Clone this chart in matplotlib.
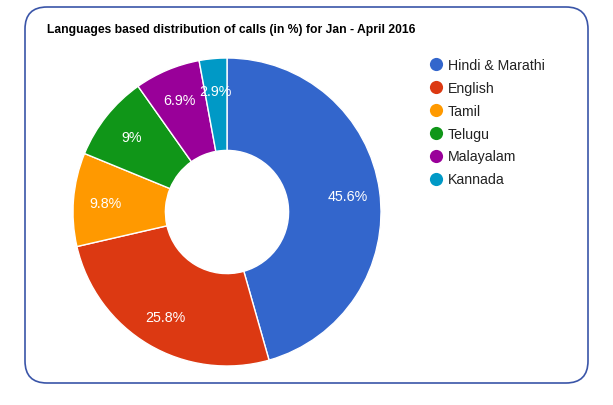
import matplotlib.pyplot as plt
from matplotlib.patches import FancyBboxPatch
import numpy as np

plt.rcParams['font.family'] = ['Liberation Sans', 'DejaVu Sans']

languages = ["Hindi & Marathi", "English", "Tamil", "Telugu", "Malayalam", "Kannada"]
shares = [45.6, 25.8, 9.8, 9, 6.9, 2.9]
share_labels = ["45.6%", "25.8%", "9.8%", "9%", "6.9%", "2.9%"]
colors = ["#3366cc", "#dc3912", "#ff9900", "#109618", "#990099", "#0099c6"]

W, H = 613, 405
fig = plt.figure(figsize=(W / 100, H / 100), dpi=100)
ax = fig.add_axes([0, 0, 1, 1])

# rounded frame
frame = FancyBboxPatch((25, H - 383), 563, 376,
                       boxstyle="round,pad=0,rounding_size=22",
                       fc="white", ec="#3a55a8", lw=1.2)
ax.add_patch(frame)

ax.text(47, H - 30, "Languages based distribution of calls (in %) for Jan - April 2016",
        fontsize=8.7, fontweight='bold', color='black', va='center', ha='left')

cx, cy, r = 227, H - 212, 154
wedges, _ = ax.pie(shares, colors=colors, startangle=90, counterclock=False,
                   center=(cx, cy), radius=r, frame=True,
                   wedgeprops=dict(width=r * 0.6, edgecolor='white', linewidth=1))
ax.set_xlim(0, W)
ax.set_ylim(0, H)
ax.set_aspect('equal')
ax.axis('off')

for w, lab in zip(wedges, share_labels):
    ang = np.deg2rad((w.theta1 + w.theta2) / 2)
    ax.text(cx + 0.79 * r * np.cos(ang), cy + 0.79 * r * np.sin(ang), lab,
            color='white', fontsize=10.3, ha='center', va='center_baseline')

# legend
for i, (name, col) in enumerate(zip(languages, colors)):
    y = H - (64 + 23 * i)
    ax.scatter([436], [y], s=90, color=col, zorder=5, linewidths=0)
    ax.text(448, y, name, fontsize=10.2, color='#222222', va='center_baseline', ha='left')

fig.savefig("out.png", dpi=100)
